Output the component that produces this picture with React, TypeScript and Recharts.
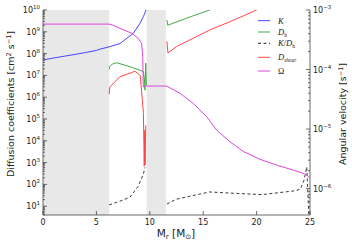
import React from 'react';
import { ComposedChart, Line, XAxis, YAxis, ReferenceArea } from 'recharts';

// ---- data ----
const massTicks = [0, 5, 10, 15, 20, 25];
const topTicks = [5, 10, 15, 20];
const leftMajor = [1e1, 1e2, 1e3, 1e4, 1e5, 1e6, 1e7, 1e8, 1e9, 1e10];
const leftDecades = [1, 1e1, 1e2, 1e3, 1e4, 1e5, 1e6, 1e7, 1e8, 1e9];
const rightMajor = [1e-6, 1e-5, 1e-4, 1e-3];
const rightDecades = [1e-7, 1e-6, 1e-5, 1e-4];
const minorMult = [2, 3, 4, 5, 6, 7, 8, 9];
const leftDomain = [3.95, 1e10];
const rightDomain = [3.6e-7, 1e-3];

const bandStart = [0, 9.7];
const bandEnd = [6.2, 11.5];

const kMass = [0, 1, 2, 3, 4, 5, 5.34, 6.2, 7.21, 8.45, 9.08, 9.4, 9.65, 10.2];
const kVal = [5.1e7, 6.3e7, 7.6e7, 9.2e7, 1.12e8, 1.4e8, 1.6e8, 2.05e8, 2.9e8, 8.5e8, 2.45e9, 5e9, 1.0e10, 2.5e10];

const dhMass = [6.2, 6.25, 6.5, 6.9, 8.15, 9.4, 9.5, 9.55, 9.62, 9.68, 10.6, 11.6, 11.68, 13.6, 15.6, 17];
const dhVal = [1.9e7, 2.6e7, 3.3e7, 3.8e7, 2.5e7, 1.5e7, 6.2e6, 2.1e6, 3.7e7, 3.6e6, null, 3.5e9, 2.0e9, 4.5e9, 1.0e10, 2.0e10];

const kdhMass = [6.2, 7.2, 8.15, 8.9, 9.4, 9.55, 10.6, 11.6, 12.5, 15.6, 17.5, 20.5, 23.6, 24.1, 24.45, 24.7, 24.8, 24.9];
const kdhVal = [11.5, 17, 26, 80, 300, 600, null, 12.6, 21, 45, 40, 34, 51, 61, 160, 630, 40, 3];

const shearMass = [6.2, 6.25, 7.2, 8.3, 8.6, 9.1, 9.4, 9.48, 9.53, 9.56, 9.62, 10.6, 11.6, 11.7, 12.5, 15.6, 17.5, 20, 21];
const shearVal = [1.4e6, 2.9e6, 8.7e6, 1.35e7, 1.55e7, 1.0e7, 2e5, 6.9e2, 3e4, 8e2, 5e4, null, 3.6e8, 1.07e8, 2.1e8, 1.2e9, 2.9e9, 1.0e10, 2e10];

const omegaMass = [0, 6.18, 6.6, 7.21, 8.31, 8.92, 9.24, 9.34, 9.39, 9.55, 11.58, 12.83, 14.07, 15.33, 16.26, 17.51, 18.76, 20.32, 21.88, 23.44, 24.37, 24.69, 25];
const omegaVal = [5.8e-4, 5.8e-4, 5.5e-4, 4.92e-4, 4.07e-4, 3.34e-4, 2.75e-4, 1.64e-4, 5.1e-5, 5.28e-5, 5.28e-5, 3.98e-5, 2.7e-5, 1.61e-5, 9.6e-6, 6.1e-6, 4.2e-6, 3.1e-6, 2.48e-6, 2.04e-6, 1.8e-6, 1.7e-6, 1.48e-6];

// ---- helpers ----
const zip = (xs: number[], vs: (number | null)[]) => xs.map((x, i) => ({ x, v: vs[i] }));
const buildTicks = (majors: number[], decades: number[], dom: number[]) =>
  [...majors, ...decades.flatMap((d) => minorMult.map((m) => m * d))].filter(
    (v) => v >= dom[0] && v <= dom[1]
  );

const leftTicks = buildTicks(leftMajor, leftDecades, leftDomain);
const rightTicks = buildTicks(rightMajor, rightDecades, rightDomain);

const COLORS = {
  k: '#4646f8',
  dh: '#44aa44',
  kdh: '#222222',
  shear: '#ff4444',
  omega: '#dd44dd',
};
const AXIS = '#444444';
const SANS = 'DejaVu Sans, sans-serif';
const SERIF = 'Liberation Serif, DejaVu Serif, serif';

const isMajor = (v: number, majors: number[]) => majors.some((m) => Math.abs(v / m - 1) < 1e-6);
const expOf = (v: number) => Math.round(Math.log10(v));
const expText = (e: number) => (e < 0 ? '\u2212' + String(-e) : String(e));

const LeftTick = (props: any) => {
  const { x, y, payload } = props;
  const v = payload.value;
  const major = isMajor(v, leftMajor);
  return (
    <g>
      <line x1={x} x2={x + (major ? 4 : 2)} y1={y} y2={y} stroke={AXIS} strokeWidth={0.8} />
      {major && (
        <text x={x - 3} y={y + 3} textAnchor="end" fontSize={8} fontFamily={SANS} fill="#222">
          10
          <tspan dy={-4} fontSize={5.5}>{expText(expOf(v))}</tspan>
        </text>
      )}
    </g>
  );
};

const RightTick = (props: any) => {
  const { x, y, payload } = props;
  const v = payload.value;
  const major = isMajor(v, rightMajor);
  return (
    <g>
      <line x1={x} x2={x - (major ? 4 : 2)} y1={y} y2={y} stroke={AXIS} strokeWidth={0.8} />
      {major && (
        <text x={x + 3} y={y + 3} textAnchor="start" fontSize={8} fontFamily={SANS} fill="#222">
          10
          <tspan dy={-4} fontSize={5.5}>{expText(expOf(v))}</tspan>
        </text>
      )}
    </g>
  );
};

const BottomTick = (props: any) => {
  const { x, y, payload } = props;
  return (
    <g>
      <line x1={x} x2={x} y1={y} y2={y - 4} stroke={AXIS} strokeWidth={0.8} />
      <text x={x} y={y + 9.6} textAnchor="middle" fontSize={8} fontFamily={SANS} fill="#222">
        {payload.value}
      </text>
    </g>
  );
};

const TopTick = (props: any) => {
  const { x, y } = props;
  return <line x1={x} x2={x} y1={y} y2={y + 4} stroke={AXIS} strokeWidth={0.8} />;
};

const legendRows = [
  { key: 'k', y: 20.7, dash: undefined as string | undefined, label: <tspan fontStyle="italic">K</tspan> },
  {
    key: 'dh', y: 32, dash: undefined,
    label: (
      <>
        <tspan fontStyle="italic">D</tspan>
        <tspan dy={2} fontSize={5.5}>h</tspan>
      </>
    ),
  },
  {
    key: 'kdh', y: 43.3, dash: '3 2.5',
    label: (
      <>
        <tspan fontStyle="italic">K</tspan>
        <tspan>/</tspan>
        <tspan fontStyle="italic">D</tspan>
        <tspan dy={2} fontSize={5.5}>h</tspan>
      </>
    ),
  },
  {
    key: 'shear', y: 57.3, dash: undefined,
    label: (
      <>
        <tspan fontStyle="italic">D</tspan>
        <tspan dy={2} fontSize={5.5} fontStyle="italic">shear</tspan>
      </>
    ),
  },
  { key: 'omega', y: 71, dash: undefined, label: <tspan>Ω</tspan> },
];

export default function App() {
  return (
    <div style={{ position: 'fixed', left: 0, top: 0, width: 352, height: 248, background: '#fff' }}>
      <ComposedChart width={352} height={248} margin={{ top: 10, right: 0, bottom: 0, left: 0 }}>
        <XAxis
          xAxisId="m"
          type="number"
          dataKey="x"
          domain={[0, 25]}
          ticks={massTicks}
          interval={0}
          height={33}
          tickSize={0}
          tickMargin={0}
          tickLine={false}
          stroke={AXIS}
          axisLine={{ stroke: AXIS, strokeWidth: 0.8 }}
          tick={<BottomTick />}
          allowDataOverflow
        />
        <XAxis
          xAxisId="t"
          orientation="top"
          type="number"
          dataKey="x"
          domain={[0, 25]}
          ticks={topTicks}
          interval={0}
          height={0}
          tickSize={0}
          tickMargin={0}
          tickLine={false}
          axisLine={{ stroke: AXIS, strokeWidth: 0.8 }}
          tick={<TopTick />}
          allowDataOverflow
        />
        <YAxis
          yAxisId="left"
          orientation="left"
          scale="log"
          type="number"
          domain={leftDomain}
          ticks={leftTicks}
          interval={0}
          width={43}
          tickSize={0}
          tickMargin={0}
          tickLine={false}
          axisLine={{ stroke: AXIS, strokeWidth: 0.8 }}
          tick={<LeftTick />}
          allowDataOverflow
        />
        <YAxis
          yAxisId="right"
          orientation="right"
          scale="log"
          type="number"
          domain={rightDomain}
          ticks={rightTicks}
          interval={0}
          width={42}
          tickSize={0}
          tickMargin={0}
          tickLine={false}
          axisLine={{ stroke: AXIS, strokeWidth: 0.8 }}
          tick={<RightTick />}
          allowDataOverflow
        />
        {bandStart.map((s, i) => (
          <ReferenceArea
            key={'band' + i}
            xAxisId="m"
            yAxisId="left"
            x1={s}
            x2={bandEnd[i]}
            fill="#e8e8e8"
            fillOpacity={1}
            stroke="none"
            ifOverflow="hidden"
          />
        ))}
        <Line xAxisId="m" yAxisId="left" data={zip(kdhMass, kdhVal)} dataKey="v" stroke={COLORS.kdh} strokeWidth={0.9} strokeDasharray="3 2.5" dot={false} isAnimationActive={false} />
        <Line xAxisId="m" yAxisId="left" data={zip(kMass, kVal)} dataKey="v" stroke={COLORS.k} strokeWidth={1} dot={false} isAnimationActive={false} />
        <Line xAxisId="m" yAxisId="left" data={zip(dhMass, dhVal)} dataKey="v" stroke={COLORS.dh} strokeWidth={1} dot={false} isAnimationActive={false} />
        <Line xAxisId="m" yAxisId="left" data={zip(shearMass, shearVal)} dataKey="v" stroke={COLORS.shear} strokeWidth={1} dot={false} isAnimationActive={false} />
        <Line xAxisId="m" yAxisId="right" data={zip(omegaMass, omegaVal)} dataKey="v" stroke={COLORS.omega} strokeWidth={1} dot={false} isAnimationActive={false} />
      </ComposedChart>
      <svg width={352} height={248} style={{ position: 'absolute', left: 0, top: 0, pointerEvents: 'none' }}>
        <text transform="translate(14,104) rotate(-90)" textAnchor="middle" fontSize={9.5} fontFamily={SANS} fill="#222">
          Diffusion coefficients [cm<tspan dy={-3.5} fontSize={6.5}>2</tspan>
          <tspan dy={3.5}> s</tspan>
          <tspan dy={-3.5} fontSize={6.5}>−1</tspan>
          <tspan dy={3.5}>]</tspan>
        </text>
        <text transform="translate(346,114) rotate(-90)" textAnchor="middle" fontSize={9.5} fontFamily={SANS} fill="#222">
          Angular velocity [s<tspan dy={-3.5} fontSize={6.5}>−1</tspan>
          <tspan dy={3.5}>]</tspan>
        </text>
        <text x={176} y={237} textAnchor="middle" fontSize={10.5} fontFamily={SANS} fill="#222">
          M<tspan dy={2} fontSize={7}>r</tspan>
          <tspan dy={-2}> [M</tspan>
          <tspan dy={2} fontSize={7}>⊙</tspan>
          <tspan dy={-2}>]</tspan>
        </text>
        {legendRows.map((r) => (
          <g key={r.key}>
            <line x1={258} x2={270} y1={r.y} y2={r.y} stroke={(COLORS as any)[r.key]} strokeWidth={1} strokeDasharray={r.dash} />
            <text x={278} y={r.y + 3} fontSize={8.5} fontFamily={SERIF} fill="#222">
              {r.label}
            </text>
          </g>
        ))}
      </svg>
    </div>
  );
}
